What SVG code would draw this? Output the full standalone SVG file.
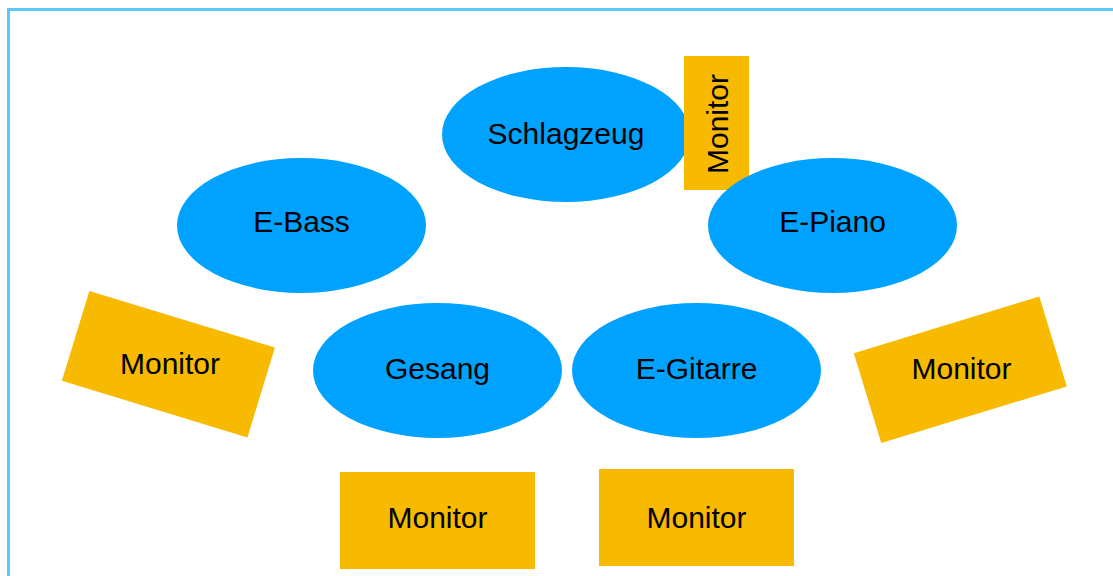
<svg xmlns="http://www.w3.org/2000/svg" width="1113" height="576" viewBox="0 0 1113 576">
<style>
.inst{fill:#00A2FF}
.mon{fill:#F7BA00}
.t{font-family:"Liberation Sans",Arial,Helvetica,sans-serif;font-size:30px;fill:#000;text-anchor:middle}
</style>
<rect x="0" y="0" width="1113" height="576" fill="#fff"/>
<rect x="8.5" y="9.5" width="1200" height="700" fill="none" stroke="#5AC8FA" stroke-width="3"/>
<g id="schlagzeug"><ellipse class="inst" cx="566" cy="134.5" rx="124" ry="67.5"/><text class="t" x="566" y="144">Schlagzeug</text></g>
<g id="monitor-top"><rect class="mon" x="684" y="56" width="65" height="134"/><text class="t" transform="translate(716.5,124) rotate(-90)" x="0" y="11">Monitor</text></g>
<g id="e-bass"><ellipse class="inst" cx="301.5" cy="225.5" rx="124.5" ry="67.5"/><text class="t" x="301.5" y="232">E-Bass</text></g>
<g id="e-piano"><ellipse class="inst" cx="832.5" cy="225.5" rx="124.5" ry="67.5"/><text class="t" x="832.5" y="232">E-Piano</text></g>
<g id="gesang"><ellipse class="inst" cx="437.5" cy="370.5" rx="124.5" ry="67.5"/><text class="t" x="437.5" y="379">Gesang</text></g>
<g id="e-gitarre"><ellipse class="inst" cx="696.5" cy="370.5" rx="124.5" ry="67.5"/><text class="t" x="696.5" y="379">E-Gitarre</text></g>
<g id="monitor-left"><rect class="mon" x="-97" y="-47" width="194" height="94" transform="translate(168.4,364.2) rotate(17)"/><text class="t" x="170" y="374">Monitor</text></g>
<g id="monitor-right"><rect class="mon" x="-97" y="-47" width="194" height="94" transform="translate(960.3,369.8) rotate(-17)"/><text class="t" x="961.5" y="379">Monitor</text></g>
<g id="monitor-gesang"><rect class="mon" x="340" y="472" width="195" height="97"/><text class="t" x="437.5" y="528">Monitor</text></g>
<g id="monitor-gitarre"><rect class="mon" x="599" y="469" width="195" height="97"/><text class="t" x="696.5" y="528">Monitor</text></g>
<g id="connectors"></g>
</svg>
